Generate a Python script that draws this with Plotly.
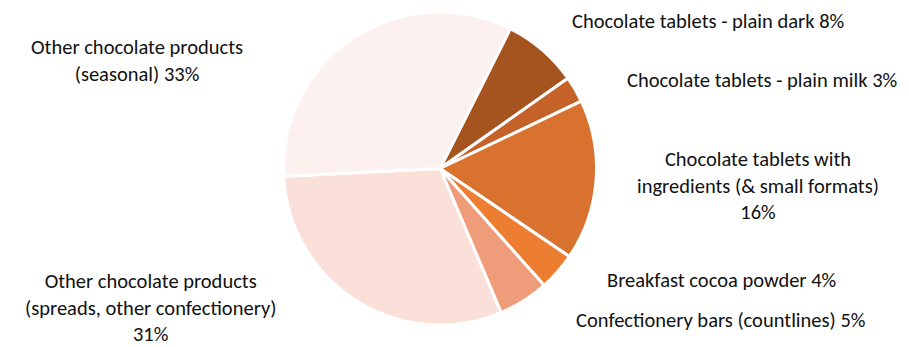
import plotly.graph_objects as go

labels = [
    "Chocolate tablets - plain dark",
    "Chocolate tablets - plain milk",
    "Chocolate tablets with ingredients (& small formats)",
    "Breakfast cocoa powder",
    "Confectionery bars (countlines)",
    "Other chocolate products (spreads, other confectionery)",
    "Other chocolate products (seasonal)",
]
values = [7.8, 2.7, 16.6, 3.9, 5.2, 30.6, 33.2]
pct_labels = ["8%", "3%", "16%", "4%", "5%", "31%", "33%"]
colors = ["#A5541F", "#C5622A", "#D8722E", "#EC7D31", "#EF9C7A", "#FAE0D9", "#FCF1EE"]

# page body has an 8px margin; the figure is sized to fill the rest of the window
OFF = 8
W, H = 909 - OFF, 347 - OFF
cx, cy, r = 440 - OFF, 168.5 - OFF, 156.5

fig = go.Figure(go.Pie(
    labels=labels,
    values=values,
    sort=False,
    direction="clockwise",
    rotation=26.7,
    textinfo="none",
    hoverinfo="label+percent",
    marker=dict(colors=colors, line=dict(color="white", width=3)),
    domain=dict(x=[(cx - 220) / W, (cx + 220) / W], y=[(H - cy - r) / H, (H - cy + r) / H]),
    showlegend=False,
))

label_texts = [
    f"Chocolate tablets - plain dark {pct_labels[0]}",
    f"Chocolate tablets - plain milk {pct_labels[1]}",
    f"Chocolate tablets with<br>ingredients (& small formats)<br>{pct_labels[2]}",
    f"Breakfast cocoa powder {pct_labels[3]}",
    f"Confectionery bars (countlines) {pct_labels[4]}",
    f"Other chocolate products<br>(spreads, other confectionery)<br>{pct_labels[5]}",
    f"Other chocolate products<br>(seasonal) {pct_labels[6]}",
]
label_pos = [(708, 21), (762, 80), (758, 185), (721, 280), (720, 320), (150, 307), (137, 61)]

for t, (x, y) in zip(label_texts, label_pos):
    fig.add_annotation(text=t, x=(x - OFF) / W, y=1 - (y - OFF) / H, xref="paper", yref="paper",
                       xanchor="center", yanchor="middle", showarrow=False, align="center",
                       borderpad=0,
                       font=dict(family="Carlito, Calibri, Lato, sans-serif", size=20.5, color="#111111"))

fig.update_layout(
    width=W, height=H,
    margin=dict(l=0, r=0, t=0, b=0),
    paper_bgcolor="white",
    plot_bgcolor="white",
)

fig.write_html("out.html")
